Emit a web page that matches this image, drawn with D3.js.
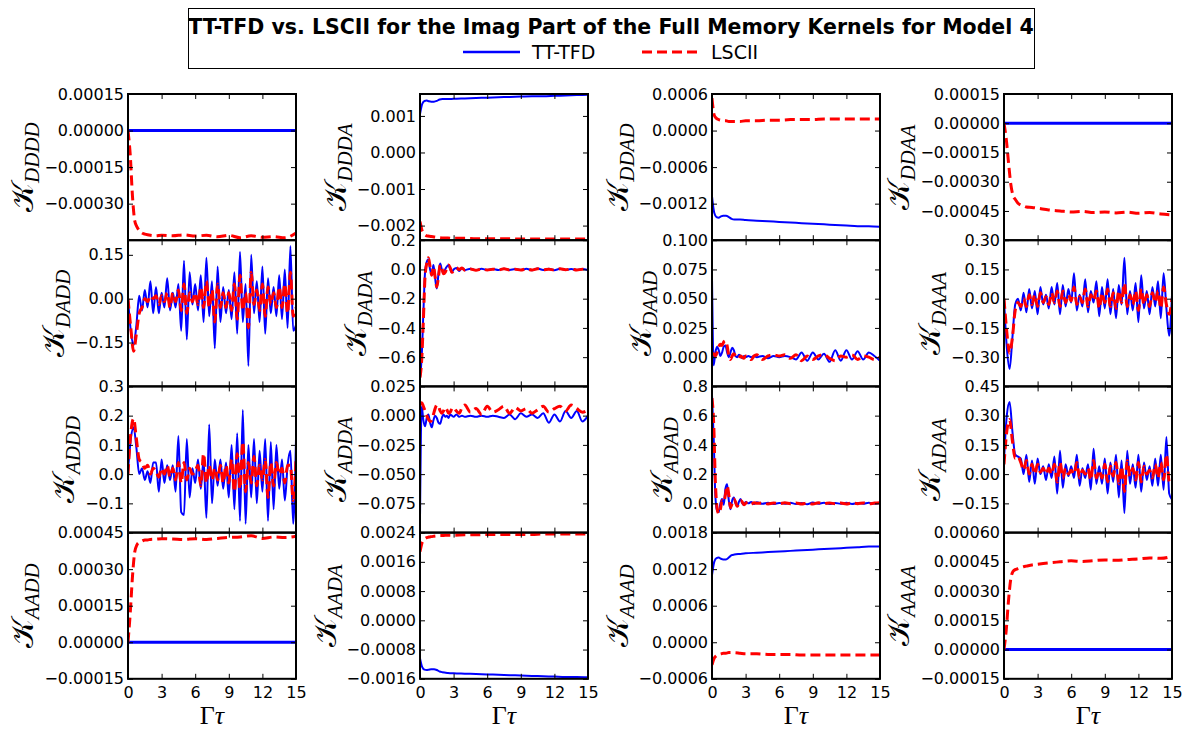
<!DOCTYPE html>
<html>
<head>
<meta charset="utf-8">
<script src="https://cdn.jsdelivr.net/npm/d3@7"></script>
<style>
  body { margin: 0; background: #fff; }
  svg { display: block; }
  text { font-family: "DejaVu Sans", sans-serif; }
</style>
</head>
<body>
<svg id="chart" width="1182" height="729"></svg>
<script>
// ---- time grids (Γτ) ----
const tGrid = [0,0.25,0.5,0.75,1,1.25,1.5,1.75,2,2.25,2.5,2.75,3,3.25,3.5,3.75,4,4.25,4.5,4.75,
  5,5.25,5.5,5.75,6,6.25,6.5,6.75,7,7.25,7.5,7.75,8,8.25,8.5,8.75,9,9.25,9.5,9.75,
  10,10.25,10.5,10.75,11,11.25,11.5,11.75,12,12.25,12.5,12.75,13,13.25,13.5,13.75,14,14.25,14.5,14.75,15];
const tDecay = [0,0.15,0.3,0.45,0.6,0.75,0.9,1.05,1.2,1.35,1.5,1.65,1.8,1.95,2.1,2.25,2.4,2.55,2.7,2.85,3,
  3.25,3.5,3.75,4,
  4.5,5,5.5,6,6.5,7,7.5,8,8.5,9,9.5,10,10.5,11,11.5,12,12.5,13,13.5,14,14.5,15];
const tSmooth = [0,0.2,0.4,0.6,0.8,1,1.25,1.5,1.75,2,2.5,3,4,5,6,7,8,9,10,11,12,13,14,15];
const tFlat = [0,15];
const flatZero = [0,0];

// ---- kernel names, row-major ----
const kernelNames = ["DDDD","DDDA","DDAD","DDAA","DADD","DADA","DAAD","DAAA",
                     "ADDD","ADDA","ADAD","ADAA","AADD","AADA","AAAD","AAAA"];

// ---- y ranges, tick values and tick formats per kernel ----
const yRanges = [[-0.00045,0.00015],[-0.0024,0.0016],[-0.0018,0.0006],[-0.0006,0.00015],
                 [-0.3,0.2],[-0.8,0.2],[-0.025,0.1],[-0.45,0.3],
                 [-0.2,0.3],[-0.1,0.025],[-0.2,0.8],[-0.3,0.45],
                 [-0.00015,0.00045],[-0.0016,0.0024],[-0.0006,0.0018],[-0.00015,0.0006]];
const yTicks = [[-0.0003,-0.00015,0,0.00015],[-0.002,-0.001,0,0.001],[-0.0012,-0.0006,0,0.0006],[-0.00045,-0.0003,-0.00015,0,0.00015],
                [-0.15,0,0.15],[-0.6,-0.4,-0.2,0,0.2],[0,0.025,0.05,0.075,0.1],[-0.3,-0.15,0,0.15,0.3],
                [-0.1,0,0.1,0.2,0.3],[-0.075,-0.05,-0.025,0,0.025],[0,0.2,0.4,0.6,0.8],[-0.15,0,0.15,0.3,0.45],
                [-0.00015,0,0.00015,0.0003,0.00045],[-0.0016,-0.0008,0,0.0008,0.0016,0.0024],[-0.0006,0,0.0006,0.0012,0.0018],[-0.00015,0,0.00015,0.0003,0.00045,0.0006]];
const yFormats = [".5f",".3f",".4f",".5f", ".2f",".1f",".3f",".2f", ".1f",".3f",".1f",".2f", ".5f",".4f",".4f",".5f"];
const xTicks = [0,3,6,9,12,15];

// ---- TT-TFD (solid) and LSCII (dashed) kernels ----
// row 1
const lscDDDD = [0,-0.0001,-0.00027,-0.00037,-0.000395,-0.00041,-0.00042,-0.000425,-0.000428,-0.00043,-0.000432,-0.00043,
  -0.000432,-0.000428,-0.000433,-0.00043,-0.000436,-0.00043,-0.00044,-0.000432,-0.000438,-0.000435,-0.00044,-0.00042];
const tfdDDDA = [0.00105,0.00133,0.00141,0.00142,0.0014,0.00139,0.00139,0.00141,0.00145,0.00146,0.00146,0.00147,
  0.00148,0.00149,0.0015,0.00151,0.00152,0.00153,0.00154,0.00154,0.00155,0.00156,0.00157,0.00158];
const lscDDDA = [-0.00189,-0.00215,-0.00224,-0.00228,-0.00229,-0.0023,-0.00231,-0.00232,-0.00233,-0.00234,-0.00234,-0.00235,
  -0.00235,-0.00236,-0.00236,-0.00236,-0.00236,-0.00237,-0.00237,-0.00237,-0.00237,-0.00237,-0.00237,-0.00237];
const tfdDDAD = [-0.00108,-0.00135,-0.00142,-0.00143,-0.00141,-0.0014,-0.0014,-0.00142,-0.00145,-0.00146,-0.00146,-0.00147,
  -0.00148,-0.00149,-0.0015,-0.00151,-0.00152,-0.00153,-0.00154,-0.00155,-0.00156,-0.00157,-0.00157,-0.00158];
const lscDDAD = [0.00053,0.00025,0.0002,0.00018,0.00017,0.00016,0.00016,0.00015,0.00015,0.00015,0.00015,0.00016,
  0.00016,0.00017,0.00017,0.00018,0.00018,0.00018,0.00019,0.00019,0.00019,0.00019,0.00019,0.00019];
const lscDDAA = [0,-0.00008,-0.0002,-0.00031,-0.00037,-0.00039,-0.00041,-0.00042,-0.000425,-0.00043,-0.000432,-0.000436,
  -0.000445,-0.00045,-0.000455,-0.000452,-0.000458,-0.000455,-0.00046,-0.000456,-0.000462,-0.000458,-0.000465,-0.00047];

// row 2
const tfdDADD = [0.00,-0.11,-0.16,-0.09,0.01,-0.04,0.03,-0.03,0.06,-0.05,
  0.04,-0.05,0.02,-0.03,0.07,-0.04,0.02,-0.03,0.05,-0.11,
  0.13,-0.14,0.09,-0.02,0.05,-0.04,0.08,-0.08,0.14,-0.06,
  0.06,-0.17,0.11,-0.08,0.04,-0.05,0.03,-0.07,0.09,-0.12,
  0.16,-0.08,0.05,-0.23,0.15,-0.05,0.06,-0.08,0.11,-0.12,
  0.07,-0.05,0.04,-0.06,0.08,-0.07,0.10,-0.10,0.18,-0.11,
  -0.09];
const lscDADD = [0.00,-0.10,-0.18,-0.12,-0.05,-0.03,0.00,-0.01,0.01,0.00,
  0.01,-0.02,0.01,-0.01,0.02,-0.03,0.02,-0.01,0.03,-0.04,
  0.05,-0.05,0.02,-0.01,0.02,-0.02,0.04,-0.03,0.06,-0.03,
  0.03,-0.08,0.05,-0.03,0.02,-0.03,0.02,-0.04,0.05,-0.07,
  0.08,-0.04,0.02,-0.10,0.09,-0.02,0.03,-0.04,0.05,-0.06,
  0.04,-0.02,0.02,-0.03,0.04,-0.03,0.05,-0.05,0.09,-0.06,
  -0.03];
const tfdDADA = [-0.74,-0.60,-0.30,-0.02,0.05,0.07,0.00,-0.03,0.03,-0.06,-0.13,-0.03,0.04,0.00,-0.03,0.00,0.02,0.03,0.00,-0.02,0.00,
  0.01,-0.01,0.01,-0.005,
  0.005,-0.004,0.004,-0.003,0.003,-0.004,0.005,-0.003,0.003,-0.004,0.004,-0.005,0.006,-0.004,0.004,-0.005,0.004,-0.003,0.003,-0.004,0.003,-0.005];
const lscDADA = [-0.74,-0.62,-0.35,-0.05,0.04,0.08,0.02,-0.04,0.02,-0.05,-0.12,-0.05,0.03,0.01,-0.03,-0.02,0.01,0.03,0.01,-0.02,-0.01,
  0.01,0.00,0.01,-0.005,
  0.003,-0.005,0.003,-0.004,0.002,-0.003,0.004,-0.003,0.002,-0.004,0.003,-0.004,0.005,-0.003,0.002,-0.004,0.004,-0.002,0.003,-0.004,0.002,-0.006];
const tfdDAAD = [0.068,-0.007,0.004,0.009,0.006,0.001,0.004,0.009,0.010,0.004,0.000,0.004,0.008,0.006,0.001,0.000,0.002,0.001,-0.001,0.001,0.000,
  0.001,0.000,0.001,0.000,
  0.001,-0.001,0.001,0.000,0.001,0.000,-0.002,0.004,-0.003,0.004,-0.002,0.003,-0.004,0.006,-0.003,0.006,-0.002,0.005,-0.002,0.004,0.001,-0.003];
const lscDAAD = [0.002,0.003,0.001,0.004,0.009,0.011,0.010,0.013,0.014,0.010,0.001,-0.002,0.001,0.003,0.001,0.000,-0.001,0.001,0.000,-0.001,0.001,
  0.000,-0.002,0.001,0.002,
  -0.002,0.001,0.002,0.001,0.002,-0.001,0.002,-0.003,0.001,-0.002,0.001,0.002,-0.001,-0.003,0.001,0.000,0.002,-0.002,0.001,0.000,-0.002,0.000];
const tfdDAAA = [0.00,-0.25,-0.36,-0.20,-0.03,0.00,-0.06,0.03,-0.07,0.05,
  -0.05,0.04,-0.08,0.06,-0.03,0.02,-0.05,0.06,-0.03,0.08,
  -0.08,0.07,-0.04,0.05,-0.02,0.13,-0.06,0.02,-0.04,0.10,
  -0.07,0.04,-0.02,0.09,-0.09,0.06,-0.05,0.10,-0.08,0.05,
  -0.10,0.07,-0.03,0.21,-0.08,0.04,-0.06,0.08,-0.12,0.12,
  -0.05,0.04,-0.08,0.06,-0.04,0.09,-0.10,0.13,-0.05,-0.19,
  0.02];
const lscDAAA = [0.00,-0.17,-0.28,-0.20,-0.06,-0.02,-0.04,0.00,-0.04,0.02,
  -0.03,0.02,-0.04,0.03,-0.02,0.01,-0.03,0.03,-0.02,0.04,
  -0.04,0.04,-0.02,0.02,-0.01,0.06,-0.03,0.01,-0.02,0.05,
  -0.04,0.02,-0.01,0.04,-0.05,0.03,-0.02,0.05,-0.04,0.03,
  -0.05,0.04,-0.02,0.08,-0.04,0.02,-0.03,0.04,-0.06,0.05,
  -0.03,0.02,-0.04,0.03,-0.02,0.04,-0.05,0.06,-0.03,-0.08,
  0.00];

// row 3
const tfdADDD = [0.01,0.12,0.16,0.09,0.00,0.02,-0.02,0.01,-0.03,0.04,
  0.04,-0.06,0.05,-0.03,0.03,-0.02,0.03,-0.06,0.13,-0.13,
  -0.14,0.12,-0.08,0.02,-0.03,0.05,-0.05,0.05,-0.15,0.17,
  -0.10,0.05,-0.04,0.05,-0.05,0.04,-0.08,0.10,-0.12,0.14,
  -0.16,0.22,-0.17,0.10,-0.08,0.12,-0.10,0.08,-0.06,0.12,
  -0.16,0.11,-0.12,0.10,-0.05,0.05,-0.09,0.03,0.08,-0.17,
  0.12];
const lscADDD = [0.00,0.14,0.19,0.12,0.05,0.04,0.02,0.03,0.00,0.02,
  0.01,-0.01,0.02,0.00,0.03,-0.01,0.02,-0.02,0.04,-0.03,
  0.04,-0.02,0.02,0.00,0.01,0.03,-0.04,0.07,-0.03,0.03,
  -0.02,0.02,-0.02,0.03,-0.03,0.03,-0.03,0.05,-0.06,0.07,
  -0.05,0.11,-0.06,0.04,-0.03,0.06,-0.04,0.03,-0.02,0.05,
  -0.08,0.04,-0.04,0.04,0.00,0.02,-0.03,0.03,0.03,-0.09,
  0.05];
const tfdADDA = [-0.088,0.008,-0.004,-0.009,-0.002,0.001,-0.006,-0.010,-0.004,0.000,-0.002,-0.006,-0.007,-0.002,0.001,-0.001,0.000,-0.002,0.001,0.000,-0.001,
  0.001,-0.001,0.000,-0.001,
  0.000,-0.001,0.000,-0.001,0.000,-0.001,-0.002,0.001,-0.003,0.002,-0.001,0.001,-0.002,0.002,-0.006,0.001,-0.005,0.004,-0.002,0.004,-0.005,0.000];
const lscADDA = [0.010,0.011,0.008,0.004,0.000,-0.003,-0.005,-0.004,0.001,0.006,0.009,0.008,0.004,0.002,0.004,0.007,0.005,0.002,0.003,0.006,0.007,
  0.004,0.002,0.007,0.009,
  0.003,0.006,0.001,0.008,0.003,0.005,0.008,0.002,0.007,0.004,0.006,0.002,0.005,0.008,0.003,0.006,0.008,0.004,0.009,0.006,0.003,0.005];
const tfdADAD = [0.74,0.45,0.05,-0.05,-0.06,0.00,0.03,-0.01,0.10,0.13,0.02,-0.04,0.02,0.04,0.00,-0.02,0.01,0.03,0.00,-0.01,0.01,
  0.00,0.01,-0.005,0.008,
  -0.003,0.004,-0.004,0.003,-0.003,0.004,-0.004,0.003,-0.006,0.006,-0.003,0.004,-0.004,0.003,-0.003,0.005,-0.004,0.003,-0.003,0.004,-0.002,0.003];
const lscADAD = [0.72,0.55,0.15,-0.03,-0.07,-0.04,0.02,0.01,0.06,0.12,0.06,-0.03,0.00,0.03,0.01,-0.02,0.00,0.02,0.01,-0.01,0.00,
  0.01,-0.005,0.005,0.00,
  0.003,-0.004,0.002,-0.003,0.004,-0.002,0.003,-0.004,0.003,-0.005,0.004,-0.002,0.003,-0.003,0.002,-0.004,0.003,-0.002,0.003,-0.003,0.002,0.005];
const tfdADAA = [0.07,0.30,0.37,0.22,0.10,0.09,0.08,0.00,0.10,-0.04,
  0.07,-0.05,0.08,0.00,0.04,-0.03,0.05,-0.02,0.09,-0.10,
  0.12,-0.07,0.05,-0.01,0.04,-0.02,0.10,-0.06,0.03,-0.02,
  0.05,-0.08,0.13,-0.05,0.04,-0.05,0.08,-0.10,0.06,-0.04,
  0.10,-0.12,0.07,-0.20,0.12,-0.05,0.05,-0.07,0.10,-0.09,
  0.06,-0.03,0.04,-0.06,0.08,-0.06,0.10,-0.08,0.19,-0.10,
  -0.13];
const lscADAA = [0.05,0.22,0.28,0.17,0.08,0.09,0.06,0.02,0.07,0.00,
  0.05,0.00,0.05,0.01,0.03,0.00,0.03,0.00,0.05,-0.04,
  0.06,-0.02,0.03,0.00,0.02,0.00,0.06,-0.02,0.02,0.00,
  0.03,-0.03,0.07,-0.02,0.02,-0.02,0.05,-0.04,0.04,-0.01,
  0.06,-0.05,0.04,-0.09,0.07,-0.01,0.03,-0.03,0.06,-0.04,
  0.04,0.00,0.02,-0.02,0.05,-0.02,0.06,-0.03,0.10,-0.04,
  -0.05];

// row 4
const lscAADD = [0,0.00012,0.00027,0.00037,0.0004,0.00041,0.000415,0.00042,0.00042,0.000422,0.000423,0.000425,
  0.000424,0.000422,0.000425,0.000422,0.000426,0.00043,0.000432,0.000437,0.000426,0.000432,0.00043,0.000435];
const tfdAADA = [-0.00104,-0.00128,-0.00135,-0.00136,-0.00135,-0.00134,-0.00134,-0.00136,-0.0014,-0.00142,-0.00144,-0.00145,
  -0.00146,-0.00147,-0.00148,-0.00149,-0.0015,-0.00151,-0.00152,-0.00153,-0.00154,-0.00155,-0.00155,-0.00156];
const lscAADA = [0.00188,0.00214,0.00222,0.00226,0.00228,0.00229,0.0023,0.00231,0.00232,0.00232,0.00233,0.00233,
  0.00234,0.00234,0.00235,0.00235,0.00235,0.00235,0.00235,0.00236,0.00236,0.00236,0.00236,0.00236];
const tfdAAAD = [0.0011,0.00132,0.00138,0.00139,0.00137,0.00136,0.00136,0.00139,0.00143,0.00144,0.00145,0.00146,
  0.00147,0.00148,0.00149,0.0015,0.00151,0.00152,0.00153,0.00154,0.00155,0.00156,0.00157,0.00157];
const lscAAAD = [-0.00037,-0.00026,-0.00022,-0.0002,-0.00019,-0.00018,-0.00018,-0.00017,-0.00017,-0.00017,-0.00018,-0.00019,
  -0.00019,-0.0002,-0.0002,-0.0002,-0.00021,-0.00021,-0.00021,-0.00021,-0.00021,-0.00021,-0.00021,-0.00021];
const lscAAAA = [0,0.0001,0.00025,0.00036,0.0004,0.00041,0.000415,0.00042,0.000425,0.000428,0.000434,0.000438,
  0.000445,0.00045,0.000455,0.000452,0.000456,0.00046,0.000458,0.000462,0.000465,0.00047,0.000468,0.000478];

// [time, values] pairs per kernel, row-major
const tfdSeries = [[tFlat,flatZero],[tSmooth,tfdDDDA],[tSmooth,tfdDDAD],[tFlat,flatZero],
                   [tGrid,tfdDADD],[tDecay,tfdDADA],[tDecay,tfdDAAD],[tGrid,tfdDAAA],
                   [tGrid,tfdADDD],[tDecay,tfdADDA],[tDecay,tfdADAD],[tGrid,tfdADAA],
                   [tFlat,flatZero],[tSmooth,tfdAADA],[tSmooth,tfdAAAD],[tFlat,flatZero]];
const lscSeries = [[tSmooth,lscDDDD],[tSmooth,lscDDDA],[tSmooth,lscDDAD],[tSmooth,lscDDAA],
                   [tGrid,lscDADD],[tDecay,lscDADA],[tDecay,lscDAAD],[tGrid,lscDAAA],
                   [tGrid,lscADDD],[tDecay,lscADDA],[tDecay,lscADAD],[tGrid,lscADAA],
                   [tSmooth,lscAADD],[tSmooth,lscAADA],[tSmooth,lscAAAD],[tSmooth,lscAAAA]];

const titleText = "TT-TFD vs. LSCII for the Imag Part of the Full Memory Kernels for Model 4";
const legendLabels = ["TT-TFD","LSCII"];

// ---- drawing ----
const svg = d3.select("#chart");
const plotW = 168, plotH = 146.2, colStep = 292, left0 = 128, top0 = 94;
const blue = "#0000ff", red = "#ff0000";
const dash = "10,5";
const x = d3.scaleLinear().domain([0, 15]).range([0, plotW]);

kernelNames.forEach((name, k) => {
  const r = Math.floor(k / 4), c = k % 4;
  const gx = left0 + c * colStep, gy = top0 + r * plotH;
  const g = svg.append("g").attr("transform", `translate(${gx},${gy})`);
  const y = d3.scaleLinear().domain(yRanges[k]).range([plotH, 0]);

  g.append("clipPath").attr("id", "clip" + k)
    .append("rect").attr("width", plotW).attr("height", plotH);

  const line = d3.line().x(d => x(d[0])).y(d => y(d[1])).curve(d3.curveMonotoneX);
  const toPts = ([ts, vs]) => ts.map((t, i) => [t, vs[i]]);
  const flat = tfdSeries[k][0] === tFlat;

  const plot = g.append("g").attr("clip-path", `url(#clip${k})`);
  plot.append("path").datum(toPts(tfdSeries[k]))
    .attr("d", line).attr("fill", "none").attr("stroke", blue)
    .attr("stroke-width", flat ? 3 : 2).attr("stroke-linejoin", "round");
  plot.append("path").datum(toPts(lscSeries[k]))
    .attr("d", line).attr("fill", "none").attr("stroke", red)
    .attr("stroke-width", 3).attr("stroke-dasharray", dash);

  // axes with inward ticks on all four sides
  const yl = g.append("g").call(d3.axisLeft(y).tickValues(yTicks[k])
      .tickFormat(d3.format(yFormats[k])).tickSize(-5).tickPadding(4));
  g.append("g").attr("transform", `translate(${plotW},0)`)
    .call(d3.axisRight(y).tickValues(yTicks[k]).tickFormat("").tickSize(-5));
  g.append("g").call(d3.axisTop(x).tickValues(xTicks).tickFormat("").tickSize(-5));
  g.append("g").attr("transform", `translate(0,${plotH})`)
    .call(d3.axisBottom(x).tickValues(xTicks).tickSize(-5).tickPadding(8)
      .tickFormat(r === 3 ? d3.format("d") : ""));
  g.selectAll(".domain").remove();
  g.selectAll(".tick line").attr("stroke", "#000").attr("stroke-width", 1);
  g.selectAll(".tick text").attr("fill", "#000").style("font-size", "16px")
    .style("font-family", "DejaVu Sans, sans-serif");

  g.append("rect").attr("width", plotW).attr("height", plotH)
    .attr("fill", "none").attr("stroke", "#000").attr("stroke-width", 2);

  // y label placed just left of the widest tick label
  const tickW = d3.max(yl.selectAll(".tick text").nodes(), n => n.getComputedTextLength());
  const lx = -4 - tickW - 11;
  const lab = g.append("text")
    .attr("transform", `translate(${lx},${plotH / 2}) rotate(-90)`)
    .attr("text-anchor", "middle");
  lab.append("tspan").text("𝒦").style("font-size", "31px")
    .style("font-family", "DejaVu Serif, Liberation Serif, serif");
  lab.append("tspan").text(name).attr("dy", 6).style("font-size", "21px")
    .style("font-style", "italic").style("font-family", "Liberation Serif, serif");

  if (r === 3) {
    const xl = g.append("text").attr("x", plotW / 2).attr("y", plotH + 45)
      .attr("text-anchor", "middle").style("font-size", "26px")
      .style("font-family", "Liberation Serif, serif");
    xl.append("tspan").text("Γ");
    xl.append("tspan").text("τ").style("font-style", "italic");
  }
});

// title + legend box
const box = svg.append("g");
box.append("rect").attr("x", 188.5).attr("y", 8.5).attr("width", 846).attr("height", 60)
  .attr("fill", "#fff").attr("stroke", "#000").attr("stroke-width", 1);
box.append("text").attr("x", 611).attr("y", 34).attr("text-anchor", "middle")
  .style("font-size", "20.5px").style("font-weight", "bold").text(titleText);
const legendX = [463, 642];
legendLabels.forEach((lbl, i) => {
  box.append("line").attr("x1", legendX[i]).attr("x2", legendX[i] + 57)
    .attr("y1", 52).attr("y2", 52)
    .attr("stroke", i === 0 ? blue : red).attr("stroke-width", i === 0 ? 2.5 : 3)
    .attr("stroke-dasharray", i === 0 ? null : dash);
  box.append("text").attr("x", legendX[i] + 69).attr("y", 59)
    .style("font-size", "19px").text(lbl);
});
</script>
</body>
</html>
